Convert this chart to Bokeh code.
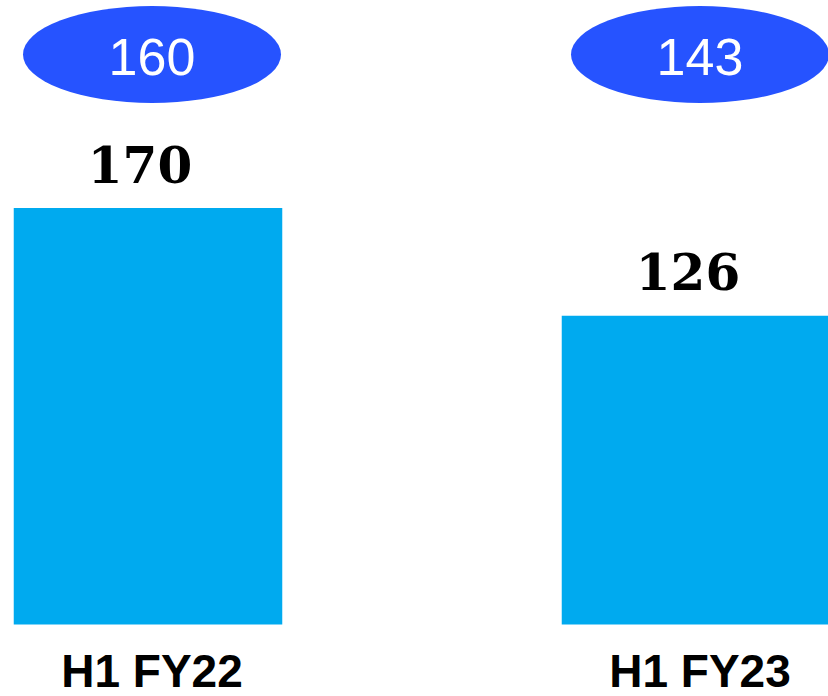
from bokeh.plotting import figure
from bokeh.models import ColumnDataSource, Range1d
from bokeh.core.properties import value
from bokeh.transform import dodge
from bokeh.embed import file_html
from bokeh.resources import INLINE

# --- data ---
categories = ["H1 FY22", "H1 FY23"]
bar_values = [170, 126]
bubble_values = [160, 143]

# --- layout helpers (screen geometry) ---
W, H = 828, 696
px_per_x = 548.0
x_start = -147.5 / px_per_x
k = 2.45                     # pixels per unit on y
base_px = 624.0              # pixel row of zero baseline
y_end = base_px / k
y_start = y_end - H / k
bubble_y = y_end - 54 / k

xs = list(range(len(categories)))
src = ColumnDataSource(dict(
    x=xs,
    cat=categories,
    val=bar_values,
    val_txt=[str(v) for v in bar_values],
    bub=[str(v) for v in bubble_values],
    bub_y=[bubble_y] * len(xs),
    zero=[0] * len(xs),
))

p = figure(width=W, height=H, output_backend="svg", toolbar_location=None,
           x_range=Range1d(x_start, x_start + W / px_per_x),
           y_range=Range1d(y_start, y_end),
           min_border=0, min_border_left=0, min_border_right=0,
           min_border_top=0, min_border_bottom=0)
p.axis.visible = False
p.xgrid.visible = False
p.ygrid.visible = False
p.outline_line_color = None
p.background_fill_color = "white"
p.border_fill_color = "white"

p.vbar(x="x", top="val", bottom=0, width=0.49, source=src,
       fill_color="#00AAEF", line_color=None)

p.text(x=dodge("x", -8 / px_per_x), y="val", text="val_txt", source=src,
       text_font=value("DejaVu Serif"), text_font_style="bold",
       text_font_size="50px", text_color="black",
       text_align="center", text_baseline="alphabetic", y_offset=-44)

p.text(x=dodge("x", 4 / px_per_x), y="zero", text="cat", source=src,
       text_font=value("Liberation Sans"), text_font_style="bold",
       text_font_size="46px", text_color="black",
       text_align="center", text_baseline="alphabetic", y_offset=46)

p.ellipse(x=dodge("x", 4 / px_per_x), y="bub_y", width=258, height=97,
          width_units="screen", height_units="screen", source=src,
          fill_color="#2653FF", line_color=None)

p.text(x=dodge("x", 4 / px_per_x), y="bub_y", text="bub", source=src,
       text_font=value("Liberation Sans"), text_font_size="52px",
       text_color="white", text_align="center", text_baseline="middle",
       y_offset=2)

open("out.html", "w").write(file_html(p, INLINE))
